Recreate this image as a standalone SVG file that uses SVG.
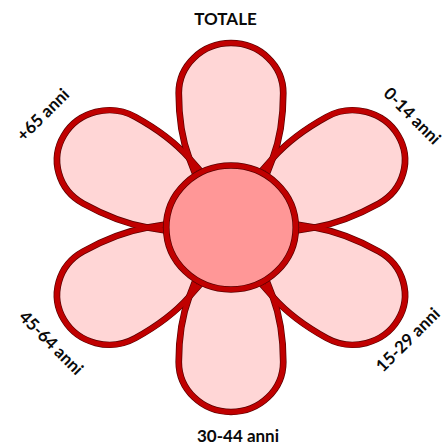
<svg xmlns="http://www.w3.org/2000/svg" xmlns:xlink="http://www.w3.org/1999/xlink" width="445" height="446" viewBox="0 0 445 446">
  <style>
    .fill { fill: #FFD6D6; stroke: none; }
    .edge { fill: none; stroke: #5a0000; stroke-width: 6.4; stroke-linejoin: round; }
    .line { fill: none; stroke: #C00000; stroke-width: 5; stroke-linejoin: round; }
    .lbl { font-family: Lato, "Open Sans", "Liberation Sans", sans-serif; font-weight: 700; font-size: 17px; fill: #0a0a0a; text-anchor: middle; }
  </style>
  <defs>
    <path id="petal" d="M -30.4,-43 L -40,-69.3 C -46.8,-88.1 -50,-112 -50,-134.5 A 50 50 0 0 1 50,-134.5 C 50,-112 46.8,-88.1 40,-69.3 L 30.4,-43 Z"/>
  </defs>
  <rect width="445" height="446" fill="#ffffff"/>
  <g id="flower" transform="translate(231,227.5) scale(1.045,1)">
    <g id="petal-fills" class="fill">
      <use xlink:href="#petal" href="#petal"/>
      <use xlink:href="#petal" href="#petal" transform="rotate(60)"/>
      <use xlink:href="#petal" href="#petal" transform="rotate(120)"/>
      <use xlink:href="#petal" href="#petal" transform="rotate(180)"/>
      <use xlink:href="#petal" href="#petal" transform="rotate(240)"/>
      <use xlink:href="#petal" href="#petal" transform="rotate(300)"/>
    </g>
    <g id="petal-edges" class="edge">
      <use xlink:href="#petal" href="#petal"/>
      <use xlink:href="#petal" href="#petal" transform="rotate(60)"/>
      <use xlink:href="#petal" href="#petal" transform="rotate(120)"/>
      <use xlink:href="#petal" href="#petal" transform="rotate(180)"/>
      <use xlink:href="#petal" href="#petal" transform="rotate(240)"/>
      <use xlink:href="#petal" href="#petal" transform="rotate(300)"/>
    </g>
    <g id="petal-lines" class="line">
      <use xlink:href="#petal" href="#petal"/>
      <use xlink:href="#petal" href="#petal" transform="rotate(60)"/>
      <use xlink:href="#petal" href="#petal" transform="rotate(120)"/>
      <use xlink:href="#petal" href="#petal" transform="rotate(180)"/>
      <use xlink:href="#petal" href="#petal" transform="rotate(240)"/>
      <use xlink:href="#petal" href="#petal" transform="rotate(300)"/>
    </g>
    <g id="center">
      <circle r="62" fill="#FF9797"/>
      <circle r="62" class="edge"/>
      <circle r="62" class="line"/>
    </g>
  </g>
  <g id="labels">
    <text id="lbl-totale" class="lbl" x="225.5" y="25">TOTALE</text>
    <text id="lbl-0-14" class="lbl" transform="translate(408,120) rotate(45)">0-14 anni</text>
    <text id="lbl-15-29" class="lbl" transform="translate(412,344) rotate(-45)">15-29 anni</text>
    <text id="lbl-30-44" class="lbl" x="238" y="442">30-44 anni</text>
    <text id="lbl-45-64" class="lbl" transform="translate(47,347) rotate(45)">45-64 anni</text>
    <text id="lbl-65" class="lbl" transform="translate(47,119) rotate(-45)">+65 anni</text>
  </g>
</svg>
